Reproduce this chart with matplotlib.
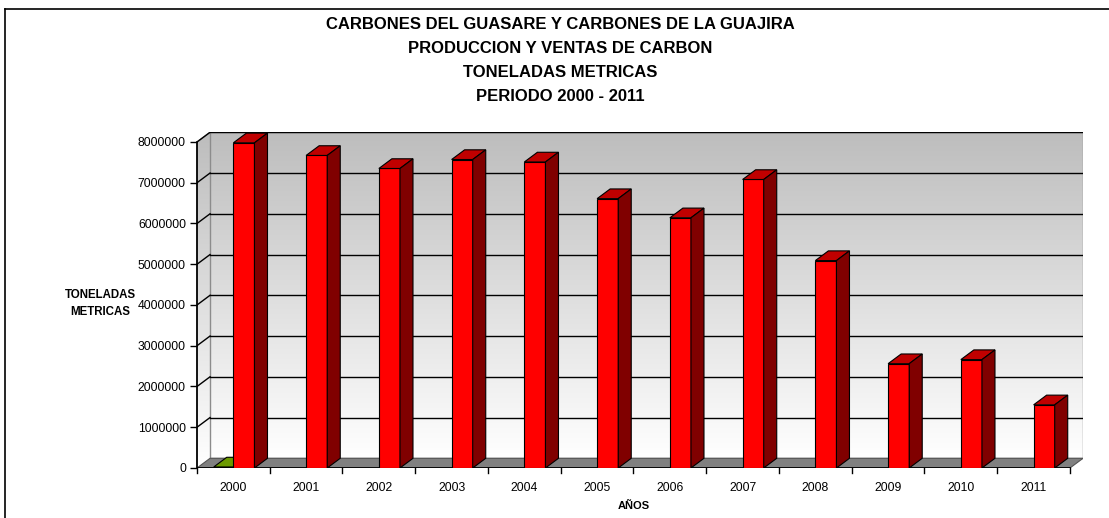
import numpy as np
import matplotlib
matplotlib.use('Agg')
import matplotlib.pyplot as plt
from matplotlib.patches import Polygon, Rectangle
from matplotlib.colors import LinearSegmentedColormap
from matplotlib.lines import Line2D

plt.rcParams['font.family'] = ['Liberation Sans', 'DejaVu Sans']

# data
years = ['2000', '2001', '2002', '2003', '2004', '2005',
         '2006', '2007', '2008', '2009', '2010', '2011']
ventas = [7980000, 7670000, 7350000, 7570000, 7510000, 6610000,
          6140000, 7080000, 5090000, 2560000, 2660000, 1550000]
produccion = [25000, 0, 0, 0, 0, 0, 0, 0, 0, 0, 0, 0]
yticks = [0, 1000000, 2000000, 3000000, 4000000,
          5000000, 6000000, 7000000, 8000000]

W, H = 1109, 518
fig = plt.figure(figsize=(W / 100, H / 100), dpi=100)

# 3d look: depth offset in x units and value units
dx = 0.179
dy = 238000
ymax = 8000000
n = len(years)

left, right, bottom, top = 197, 1083, 468, 132.3
ax = fig.add_axes([left / W, (H - bottom) / H, (right - left) / W, (bottom - top) / H])
ax.set_xlim(-0.5, n - 0.5 + dx)
ax.set_ylim(0, ymax + dy)
ax.patch.set_alpha(0)
for s in ['top', 'right', 'bottom']:
    ax.spines[s].set_visible(False)
ax.spines['left'].set_bounds(0, ymax)
ax.spines['left'].set_linewidth(1.3)

# walls with gradient
cmap = LinearSegmentedColormap.from_list('wall', ['#ffffff', '#bdbdbd'])
grad = np.linspace(0, 1, 256).reshape(-1, 1)
back = ax.imshow(grad, cmap=cmap, origin='lower', aspect='auto',
                 extent=[-0.5 + dx, n - 0.5 + dx, dy, ymax + dy], zorder=0)
side = ax.imshow(grad, cmap=cmap, origin='lower', aspect='auto',
                 extent=[-0.5, -0.5 + dx, 0, ymax + dy], zorder=0)
side_poly = Polygon([(-0.5, 0), (-0.5 + dx, dy), (-0.5 + dx, ymax + dy), (-0.5, ymax)],
                    closed=True, transform=ax.transData)
side.set_clip_path(side_poly)
ax.add_patch(Rectangle((-0.5 + dx, dy), n, ymax, fill=False, ec='#8c8c8c', lw=1, zorder=1))
ax.plot([-0.5, -0.5 + dx], [ymax, ymax + dy], color='#8c8c8c', lw=1, zorder=1)

# gridlines on back wall + side wall diagonals
for v in yticks[1:]:
    ax.plot([-0.5 + dx, n - 0.5 + dx], [v + dy, v + dy], color='black', lw=1, zorder=1)
    ax.plot([-0.5, -0.5 + dx], [v, v + dy], color='black', lw=1, zorder=1)

# floor
floor = Polygon([(-0.5, 0), (n - 0.5, 0), (n - 0.5 + dx, dy), (-0.5 + dx, dy)],
                closed=True, fc='#808080', ec='#555555', lw=0.8, zorder=2)
ax.add_patch(floor)
ax.plot([-0.5, n - 0.5], [0, 0], color='black', lw=1.3, zorder=2.5)


def draw_bars(x0, vals, w, front, topc, sidec, z):
    for xi, v in zip(x0, vals):
        if v <= 0:
            continue
        ax.bar(xi, v, width=w, align='edge', color=front, edgecolor='black', lw=0.8, zorder=z)
        ax.add_patch(Polygon([(xi, v), (xi + w, v), (xi + w + dx, v + dy), (xi + dx, v + dy)],
                             closed=True, fc=topc, ec='black', lw=0.8, zorder=z))
        ax.add_patch(Polygon([(xi + w, 0), (xi + w + dx, dy), (xi + w + dx, v + dy), (xi + w, v)],
                             closed=True, fc=sidec, ec='black', lw=0.8, zorder=z))


xs = np.arange(n)
draw_bars(xs - 0.27, produccion, 0.27, '#7faa00', '#6c9a00', '#4e7000', 3)
draw_bars(xs, ventas, 0.29, '#ff0000', '#c00000', '#800000', 4)

# axes ticks
ax.set_yticks(yticks)
ax.set_yticklabels([str(v) for v in yticks], fontsize=8.7)
ax.tick_params(axis='y', length=5, width=1, pad=3)
ax.set_xticks(xs)
ax.set_xticklabels(years, fontsize=8.7)
ax.tick_params(axis='x', length=0, pad=10)
for b in np.arange(-0.5, n, 1.0):
    ax.plot([b, b], [0, -130000], color='black', lw=1, clip_on=False, zorder=3)

# labels and title
fig.text(100 / W, 1 - 303.5 / H, 'TONELADAS\nMETRICAS', ha='center', va='center',
         fontsize=8.3, fontweight='bold', linespacing=1.45)
fig.text(633.5 / W, 1 - 506 / H, 'AÑOS', ha='center', va='center',
         fontsize=8, fontweight='bold')
title = ['CARBONES DEL GUASARE Y CARBONES DE LA GUAJIRA',
         'PRODUCCION Y VENTAS DE CARBON',
         'TONELADAS METRICAS',
         'PERIODO 2000 - 2011']
for i, t in enumerate(title):
    fig.text(560 / W, 1 - (24.5 + 24 * i) / H, t, ha='center', va='center',
             fontsize=12, fontweight='bold')

# outer frame
fig.add_artist(Line2D([5 / W, 5 / W], [0, 1 - 9 / H], color='black', lw=1.2))
fig.add_artist(Line2D([5 / W, 1], [1 - 9 / H, 1 - 9 / H], color='black', lw=1.2))

fig.savefig('out.png', dpi=100)
